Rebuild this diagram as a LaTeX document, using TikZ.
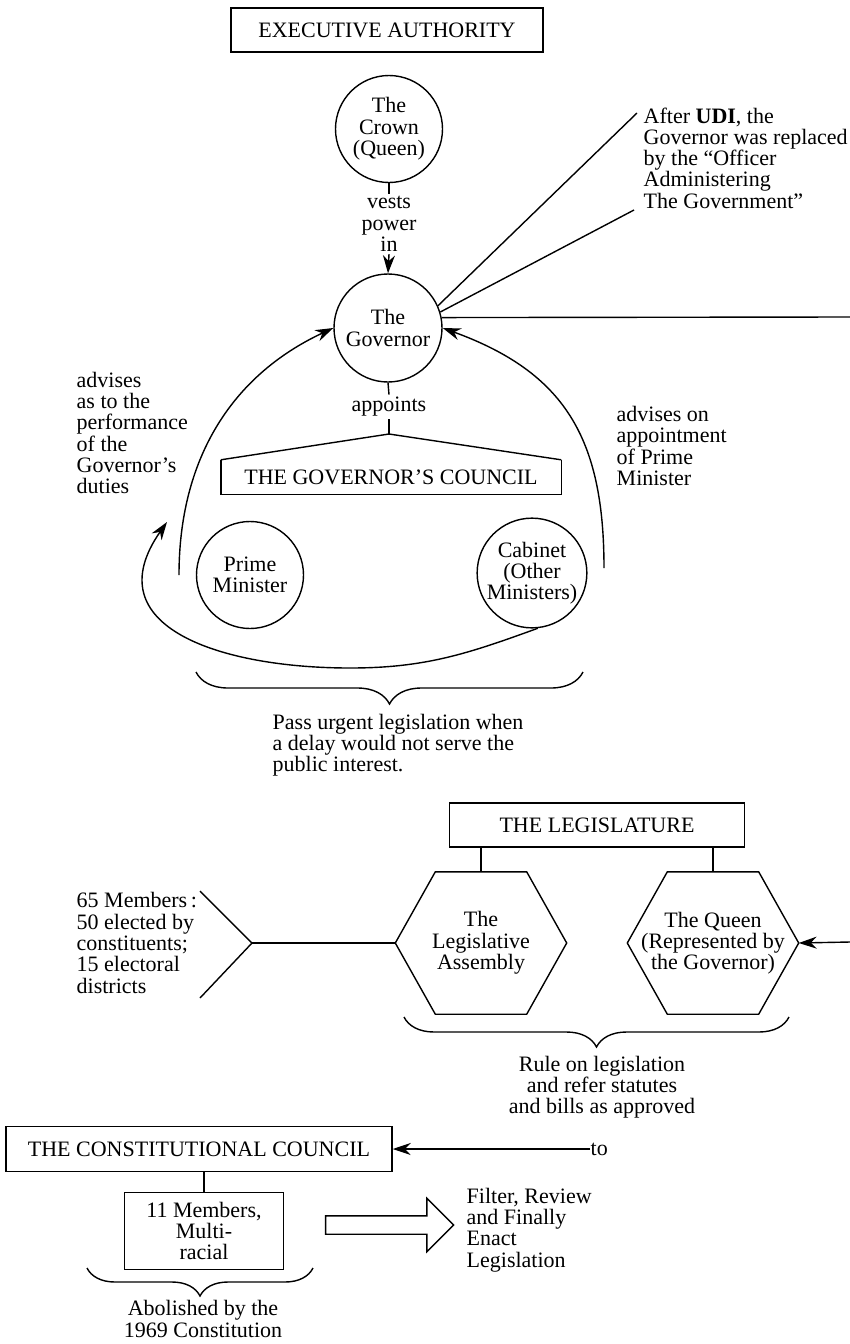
\documentclass[tikz,border=0pt]{standalone}
\usepackage{fontspec}
\setmainfont{Liberation Serif}
\usetikzlibrary{arrows.meta,calc,decorations.pathreplacing,shapes.arrows}

\begin{document}
\begin{tikzpicture}[x=0.5pt, y=-0.5pt, >={Stealth[length=9pt,width=6pt]}, line width=0.7pt,
  every node/.style={font=\fontsize{11}{10.65}\selectfont, align=center, inner sep=1pt},
  titlebox/.style={draw, minimum height=22pt, inner sep=0pt},
  person/.style={draw, circle, minimum size=53.5pt, inner sep=0pt},
  hexa/.style={minimum width=85pt, minimum height=70.5pt, inner sep=0pt},
  note/.style={align=left, anchor=west},
  curly/.style={decorate, decoration={brace, amplitude=#1}}]

\useasboundingbox (0,0) rectangle (850,1344);

% Executive authority (top part)
\node[titlebox, minimum width=156pt] (exec) at (387,30) {EXECUTIVE AUTHORITY};
\node[person] (crown) at (389,129) {The\\Crown\\(Queen)};
\node (vests) at (389,224) {vests\\power\\in};
\node[person, minimum size=54pt] (gov) at (388,328) {The\\Governor};
\node (appoints) at (389,407) {appoints};
\coordinate (roof) at (389,434);
\node[minimum width=169.5pt, minimum height=16.5pt, inner sep=0pt] (council) at (391,477) {THE GOVERNOR'S COUNCIL};
\node[person] (pm) at (250,575) {Prime\\Minister};
\node[person] (cabinet) at (532,573) {Cabinet\\(Other\\Ministers)};

\draw (crown.south) -- (vests.north);
\draw[->] (vests.south) -- (gov.north);
\draw (gov.south) -- (appoints.north);
\draw (appoints.south) -- (roof);

% Council box with its roof
\draw (council.north west) -- (council.south west) -- (council.south east) -- (council.north east);
\draw (council.north west) -- (roof) -- (council.north east);

% Note on UDI
\node[note] (udi) at (641,158) {After \textbf{UDI}, the\\Governor was replaced\\by the ``Officer\\Administering\\The Government''};
\coordinate (udiTop) at (637,113);
\coordinate (udiLow) at (634,210);
\coordinate (govRight) at (850,317);
\draw (gov.24) -- (udiTop);
\draw (gov.17) -- (udiLow);
\draw (gov.11) -- (govRight);

% Advice arcs
\coordinate (pmArc) at (179,575);
\coordinate (cabArc) at (604,568);
\draw[->] (pmArc) to[out=90, in=205] (gov.west);
\draw[->] (cabArc) to[out=90, in=-20, looseness=1.15] (gov.east);
\node[note] (advLeft) at (74,433) {advises\\as to the\\performance\\of the\\Governor's\\duties};
\node[note] (advRight) at (614,446) {advises on\\appointment\\of Prime\\Minister};

% Loop under the council
\coordinate (loopLow) at (350,668);
\coordinate (loopEnd) at (167,522);
\draw[->] (cabinet.-84) to[out=200, in=0] (loopLow) to[out=180, in=235, looseness=1.4] (loopEnd);

\coordinate (braceR) at (583,672);
\coordinate (braceL) at (196,672);
\draw[curly=16pt] (braceR) -- (braceL);
\node[note] (urgent) at (270,745) {Pass urgent legislation when\\a delay would not serve the\\public interest.};

% The legislature
\node[titlebox, minimum width=147.5pt] (legis) at (597,825) {THE LEGISLATURE};
\node[hexa] (assembly) at (481,943) {The\\Legislative\\Assembly};
\node[hexa] (queen) at (713,943) {The Queen\\(Represented by\\the Governor)};
\foreach \h in {assembly,queen}
  \draw ($(\h.north west)+(40,0)$) -- ($(\h.north east)+(-40,0)$) -- (\h.east)
    -- ($(\h.south east)+(-40,0)$) -- ($(\h.south west)+(40,0)$) -- (\h.west) -- cycle;
\draw (legis.south -| assembly.north) -- (assembly.north);
\draw (legis.south -| queen.north) -- (queen.north);

\coordinate (fork) at (252,943);
\coordinate (forkUp) at (200,891);
\coordinate (forkDown) at (200,998);
\draw (assembly.west) -- (fork);
\draw (forkUp) -- (fork) -- (forkDown);
\node[note] (members65) at (74,943) {65 Members\,:\\50 elected by\\constituents;\\15 electoral\\districts};

\coordinate (queenIn) at (850,942);
\draw[->] (queenIn) -- (queen.east);

\coordinate (ruleR) at (789,1017);
\coordinate (ruleL) at (404,1017);
\draw[curly=15pt] (ruleR) -- (ruleL);
\node (rule) at (602,1087) {Rule on legislation\\and refer statutes\\and bills as approved};

% The constitutional council
\node[titlebox, minimum width=193pt, minimum height=22.5pt] (constit) at (199,1149) {THE CONSTITUTIONAL COUNCIL};
\node[anchor=west, inner sep=0pt] (toLabel) at (590,1149) {to};
\draw[->] (toLabel.west) -- (toLabel.west -| constit.east);

\node[draw, minimum width=79.5pt, minimum height=38.5pt, inner sep=0pt] (members11) at (204,1231) {11 Members,\\Multi-\\racial};
\draw (members11.north |- constit.south) -- (members11.north);

\node[draw, single arrow, minimum height=64pt, single arrow head extend=8.75pt,
  single arrow tip angle=90, inner sep=4.25pt] (enactArrow) at (385,1225) {};
\node[note] (enact) at (464,1230) {Filter, Review\\and Finally\\Enact\\Legislation};

\coordinate (abolR) at (313,1268);
\coordinate (abolL) at (87,1268);
\draw[curly=14pt] (abolR) -- (abolL);
\node (abolished) at (203,1319) {Abolished by the\\1969 Constitution};

\end{tikzpicture}
\end{document}
